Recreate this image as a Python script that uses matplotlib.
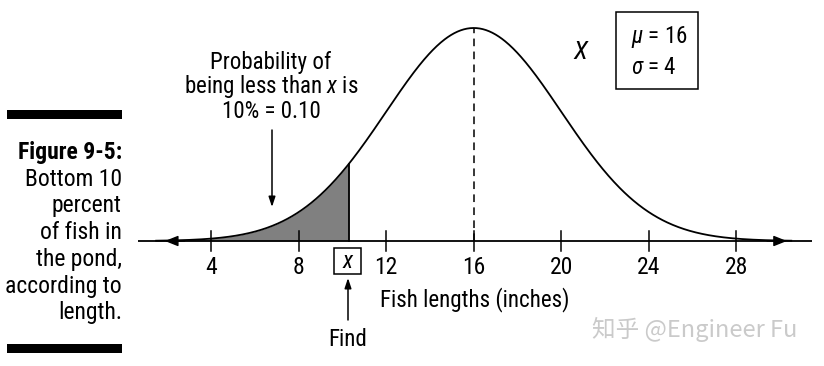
import numpy as np
import matplotlib
matplotlib.use("Agg")
import matplotlib.pyplot as plt
from matplotlib import font_manager as fm
from matplotlib.patches import Rectangle

# ---- data ----
mu = 16
sigma = 4
x_cut = 10.3              # position of the unknown x (10th percentile) as drawn
tick_values = [4, 8, 12, 16, 20, 24, 28]
tick_labels = ["4", "8", "12", "16", "20", "24", "28"]
x_label = "Fish lengths (inches)"
prob_text = ["Probability of", "being less than $\\mathit{x}$ is", "10% = 0.10"]
caption_bold = "Figure 9-5:"
caption_lines = ["Bottom 10", "percent", "of fish in", "the pond,", "according to", "length."]
param_lines = ["$\\mu$ = 16", "$\\sigma$ = 4"]
watermark = "知乎 @Engineer Fu"

names = {f.name for f in fm.fontManager.ttflist}
main_font = "Roboto Condensed" if "Roboto Condensed" in names else "DejaVu Sans"
plt.rcParams['font.family'] = [main_font, 'DejaVu Sans']
plt.rcParams['mathtext.fontset'] = 'custom'
plt.rcParams['mathtext.rm'] = main_font
plt.rcParams['mathtext.it'] = main_font + ':italic'

W, H = 824, 366
fig = plt.figure(figsize=(W / 100, H / 100), dpi=100)
ax = fig.add_axes([0, 0, 1, 1])
ax.axis("off")

def pdf(x):
    return np.exp(-0.5 * ((x - mu) / sigma) ** 2) / (sigma * np.sqrt(2 * np.pi))

pm = pdf(mu)
px0, ppu = 123.3, 21.9          # pixel of x=0, pixels per unit
base_px, peak_px = 241, 28
ax.set_xlim(-px0 / ppu, (W - px0) / ppu)
ax.set_ylim(-(H - base_px) / (base_px - peak_px) * pm, base_px / (base_px - peak_px) * pm)
ypp = pm / (base_px - peak_px)  # data units per pixel vertically

def F(x, y):  # figure pixel coords (from top-left) -> figure fraction
    return (x / W, 1 - y / H)

lw = 1.3
# axis line and arrowheads
ax.plot([0.67, 31.45], [0, 0], color="black", lw=lw, solid_capstyle="butt", zorder=3)
for tip, tail in [(1.9, 2.8), (30.3, 29.4)]:
    ax.annotate("", xy=(tip, 0), xytext=(tail, 0),
                arrowprops=dict(arrowstyle="-|>,head_length=0.8,head_width=0.32",
                                color="black", lw=1.0, shrinkA=0, shrinkB=0), zorder=4)

# curve
xs = np.linspace(1.5, 30.5, 800)
ax.plot(xs, pdf(xs), color="black", lw=lw, zorder=3)

# shaded region
xf = np.linspace(1.5, x_cut, 400)
ax.fill_between(xf, 0, pdf(xf), color="#808080", lw=0, zorder=2)
ax.plot([x_cut, x_cut], [0, pdf(x_cut)], color="black", lw=lw, zorder=3)

# dashed mean line
ax.plot([mu, mu], [0, pm], color="black", lw=1.1, ls=(0, (5, 3.5)), zorder=3)

# ticks
for t, lab in zip(tick_values, tick_labels):
    ax.plot([t, t], [-10 * ypp, 10 * ypp], color="black", lw=1.1, zorder=3)
    ax.text(t, -26 * ypp, lab, ha="center", va="center", fontsize=17)

ax.text(*F(475, 300), x_label, transform=fig.transFigure, ha="center", va="center", fontsize=16.6)

# boxed x and Find
ax.add_patch(Rectangle(F(334, 274), 27 / W, 26 / H, transform=fig.transFigure,
                       fill=False, ec="black", lw=1.1))
ax.text(*F(348, 261), "$\\mathit{x}$", transform=fig.transFigure, ha="center", va="center", fontsize=17)
ax.annotate("", xy=F(348, 278), xytext=F(348, 320), xycoords="figure fraction",
            textcoords="figure fraction",
            arrowprops=dict(arrowstyle="-|>,head_length=0.6,head_width=0.2", color="black",
                            lw=1.1, shrinkA=0, shrinkB=0))
ax.text(*F(348, 340), "Find", transform=fig.transFigure, ha="center", va="center", fontsize=16.6)

# probability annotation
for i, line in enumerate(prob_text):
    ax.text(*F(271, 62 + 25 * i), line, transform=fig.transFigure, ha="center", va="center", fontsize=16.6)
ax.annotate("", xy=F(272, 207), xytext=F(272, 130), xycoords="figure fraction",
            textcoords="figure fraction",
            arrowprops=dict(arrowstyle="-|>,head_length=0.6,head_width=0.2", color="black",
                            lw=1.1, shrinkA=0, shrinkB=0))

# X label and parameter box
ax.text(*F(582, 52), "$\\mathit{X}$", transform=fig.transFigure, ha="center", va="center", fontsize=18.5)
ax.add_patch(Rectangle(F(616, 89), 82 / W, 77 / H, transform=fig.transFigure,
                       fill=False, ec="black", lw=1.1))
for i, line in enumerate(param_lines):
    ax.text(*F(631, 37 + 30 * i), line, transform=fig.transFigure, ha="left", va="center", fontsize=16.6)

# left caption
ax.add_patch(Rectangle(F(7, 119), 115 / W, 9 / H, transform=fig.transFigure, color="black", lw=0))
ax.add_patch(Rectangle(F(7, 353), 115 / W, 9 / H, transform=fig.transFigure, color="black", lw=0))
ax.text(*F(122, 152), caption_bold, transform=fig.transFigure, ha="right", va="center",
        fontsize=17, fontweight="bold")
for i, line in enumerate(caption_lines):
    ax.text(*F(122, 179 + 26.8 * i), line, transform=fig.transFigure, ha="right", va="center", fontsize=17)

# watermark
ax.text(*F(695, 329), watermark, transform=fig.transFigure, ha="center", va="center",
        fontsize=17, color="#cacaca", family=["Noto Sans CJK SC", "DejaVu Sans"])

fig.savefig("out.png", dpi=100)
